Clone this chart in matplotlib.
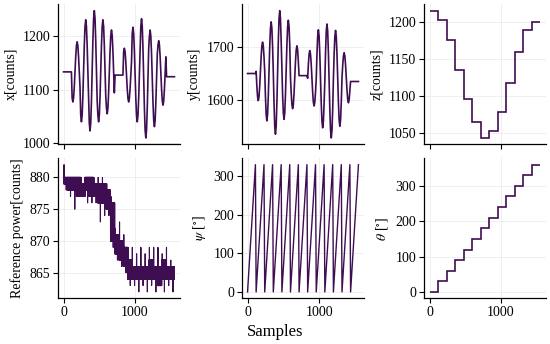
import numpy as np
import matplotlib
matplotlib.use("Agg")
import matplotlib.pyplot as plt
from matplotlib.ticker import MultipleLocator

# ---------------- data ----------------
theta_deg = [0, 30, 60, 90, 120, 150, 180, 210, 240, 270, 300, 330, 360]
psi_deg = [0, 30, 60, 90, 120, 150, 180, 210, 240, 270, 300, 330]

z_levels = [1215, 1203, 1175, 1135, 1096, 1065, 1044, 1053, 1079, 1118, 1159, 1189, 1200]

# x: per theta-block centre and signed amplitude, plus waveform over psi
x_center = [1133, 1133, 1135, 1135, 1135, 1133, 1127, 1127, 1128, 1121, 1121, 1131, 1124]
x_amp = [0, 56, 95, 112, 95, 78, 0, -50, -88, -111, -90, -60, 0]
x_shape = [-0.87, -1.0, -0.87, -0.5, 0.0, 0.5, 0.87, 1.0, 0.87, 0.5, 0.0, -0.5]

# y: per theta-block centre and signed amplitude, plus waveform over psi
y_center = [1650, 1654, 1654, 1652, 1657, 1643, 1646, 1641, 1640, 1636, 1641, 1642, 1635]
y_amp = [0, 55, 93, 116, 93, 59, 0, -52, -92, -107, -90, -47, 0]
y_shape = [0.0, -0.5, -0.87, -1.0, -0.87, -0.5, 0.0, 0.5, 0.87, 1.0, 0.87, 0.5]

# reference power: band read per 60-sample segment
power_band_top = [880, 880, 880, 880, 879, 880, 880, 879, 879, 879, 878, 876, 871,
                  870, 869, 867, 866, 866, 866, 866, 867, 866, 866, 867, 866, 866]
power_band_bot = [879, 878, 878, 877, 877, 878, 877, 877, 876, 876, 875, 870, 868,
                  867, 866, 864, 864, 864, 864, 864, 864, 864, 863, 864, 864, 864]
power_spike_hi = [882, 880, 880, 880, 880, 880, 880, 880, 880, 880, 879, 877, 872,
                  873, 871, 869, 869, 868, 869, 868, 869, 869, 869, 868, 869, 867]
power_spike_lo = [878, 877, 875, 877, 877, 876, 876, 876, 873, 874, 874, 869, 867,
                  866, 865, 863, 863, 862, 863, 862, 863, 862, 863, 862, 863, 862]

# ---------------- build sample series ----------------
STEP = 10                  # samples per psi step
NPSI = len(psi_deg)
NBLK = len(theta_deg)
BLOCK = STEP * NPSI
SEG = 60

step_pos = np.arange(NBLK * NPSI) * STEP
psi_series = np.tile(psi_deg, NBLK)
x_series = np.repeat(x_center, NPSI) + np.repeat(x_amp, NPSI) * np.tile(x_shape, NBLK)
y_series = np.repeat(y_center, NPSI) + np.repeat(y_amp, NPSI) * np.tile(y_shape, NBLK)
block_edges = np.arange(NBLK + 1) * BLOCK

n_samp = SEG * len(power_band_top)
samp = np.arange(n_samp)
within = samp % SEG
p_top = np.repeat(power_band_top, SEG)
p_bot = np.repeat(power_band_bot, SEG)
p_hi = np.repeat(power_spike_hi, SEG)
p_lo = np.repeat(power_spike_lo, SEG)
power_series = np.where(samp % 2 == 0, p_top, p_bot)
power_series = np.where(within == 7, p_hi, power_series)
power_series = np.where(within == 38, p_lo, power_series)

# ---------------- styling ----------------
plt.rcParams["font.family"] = ["Liberation Serif", "DejaVu Serif"]
plt.rcParams["mathtext.fontset"] = "stix"
plt.rcParams["font.size"] = 10

COLOR = "#3f0d52"
W, H = 550, 344
fig = plt.figure(figsize=(W / 100, H / 100), dpi=100)

col_left = [58, 242, 424]
col_w = 122
row_top = [4.3, 158.3]
row_h = 140


def make_ax(r, c):
    left = col_left[c] / W
    bottom = 1 - (row_top[r] + row_h) / H
    ax = fig.add_axes([left, bottom, col_w / W, row_h / H])
    for s in ("top", "right"):
        ax.spines[s].set_visible(False)
    for s in ("left", "bottom"):
        ax.spines[s].set_linewidth(0.9)
    ax.grid(True, color="#ececec", linewidth=0.6)
    ax.set_axisbelow(True)
    ax.tick_params(direction="out", length=3.5, width=0.8, pad=2, labelsize=10)
    ax.xaxis.set_major_locator(MultipleLocator(1000))
    if r == 0:
        ax.tick_params(labelbottom=False)
    return ax


lw = 1.2
ax = make_ax(0, 0)
ax.plot(step_pos, x_series, color=COLOR, lw=lw)
ax.yaxis.set_major_locator(MultipleLocator(100))
ax.set_ylabel("x[counts]")

ax = make_ax(0, 1)
ax.plot(step_pos, y_series, color=COLOR, lw=lw)
ax.yaxis.set_major_locator(MultipleLocator(100))
ax.set_ylabel("y[counts]")

ax = make_ax(0, 2)
ax.stairs(z_levels, block_edges, baseline=None, color=COLOR, lw=lw)
ax.margins(x=0.05, y=0.05)
ax.yaxis.set_major_locator(MultipleLocator(50))
ax.set_ylabel("z[counts]")

ax = make_ax(1, 0)
ax.plot(samp, power_series, color=COLOR, lw=0.8)
ax.yaxis.set_major_locator(MultipleLocator(5))
ax.set_ylabel("Reference power[counts]")

ax = make_ax(1, 1)
ax.plot(step_pos, psi_series, color=COLOR, lw=1.0)
ax.yaxis.set_major_locator(MultipleLocator(100))
ax.set_ylabel(r"$\psi$ [$^{\circ}$]")

ax = make_ax(1, 2)
ax.stairs(theta_deg, block_edges, baseline=None, color=COLOR, lw=lw)
ax.margins(x=0.05, y=0.05)
ax.yaxis.set_major_locator(MultipleLocator(100))
ax.set_ylabel(r"$\theta$ [$^{\circ}$]")

fig.text(0.5, 1 - 331.7 / H, "Samples", ha="center", va="center", fontsize=12)

fig.savefig("out.png", dpi=100)
